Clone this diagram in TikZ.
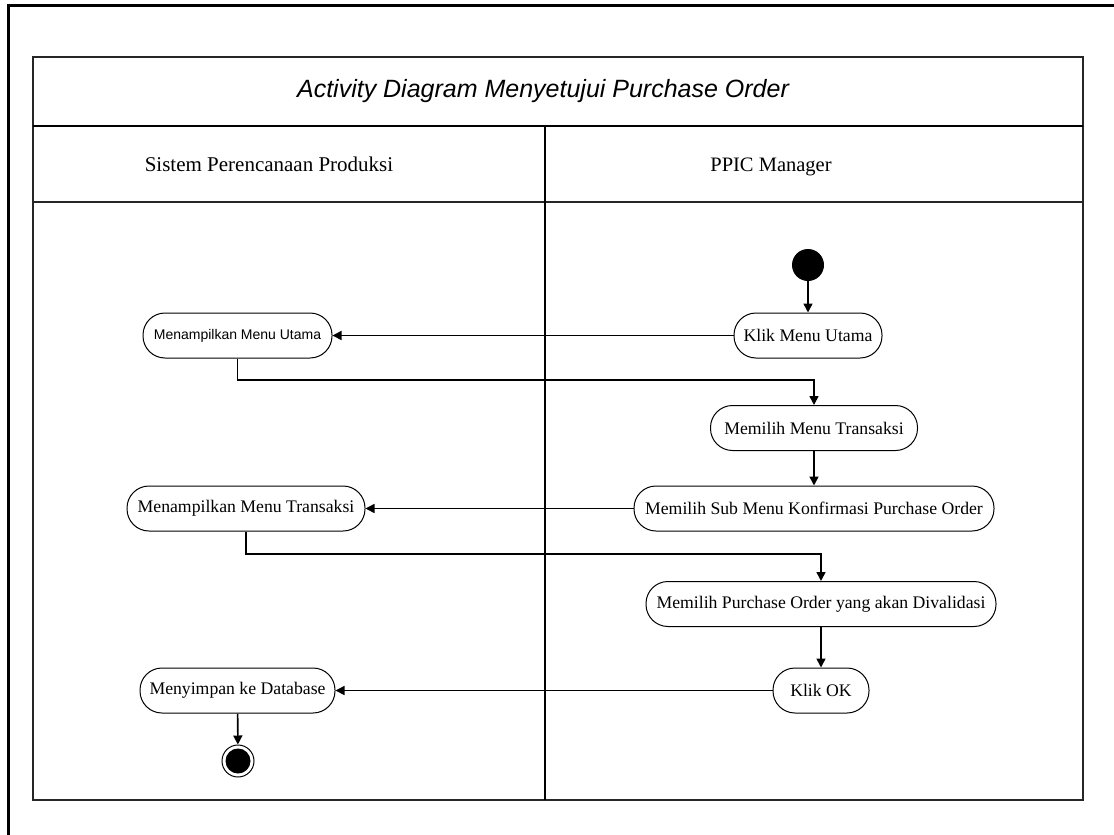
\documentclass[tikz,border=0pt]{standalone}
\usepackage{fontspec}
\setmainfont{Liberation Serif}
\setsansfont{Liberation Sans}
\usetikzlibrary{arrows.meta}
\begin{document}
\begin{tikzpicture}[x=1pt,y=-1pt,
  act/.style={draw, line width=1pt, rounded corners=22pt, minimum height=45pt,
              inner sep=0pt, font=\fontsize{17.7}{20}\selectfont},
  flow/.style={line width=1.6pt, -{Triangle[length=9pt,width=9pt]}},
  frame/.style={line width=1.4pt, draw=black!85}]
\useasboundingbox (0,0) rectangle (1114,835);

% outer frame (top and left edges)
\draw[line width=3pt] (1114,5.5) -- (8.5,5.5) -- (8.5,835);

% swimlane table
\draw[frame] (33,57) rectangle (1083,800);
\draw[line width=1.8pt] (33,126) -- (1083,126);
\draw[frame] (33,202) -- (1083,202);
\draw[line width=1.8pt] (545,126) -- (545,800);

\node[font=\sffamily\itshape\fontsize{25}{28}\selectfont] (title) at (543,91.5) {Activity Diagram Menyetujui Purchase Order};
\node[font=\fontsize{21}{24}\selectfont] (laneA) at (269,164) {Sistem Perencanaan Produksi};
\node[font=\fontsize{20.5}{24}\selectfont] (laneB) at (771,167) {PPIC Manager};

% activities
\node[circle, fill=black, minimum size=32pt, inner sep=0pt] (start) at (808,265) {};
\node[act, minimum width=148pt] (klik) at (808,335.5) {Klik Menu Utama};
\node[act, minimum width=189pt, font=\sffamily\fontsize{14}{17}\selectfont] (menuUtama) at (237.5,335.5) {Menampilkan Menu Utama};
\node[act, minimum width=207pt] (menuTrans) at (814,428) {Memilih Menu Transaksi};
\node[act, minimum width=360pt] (subMenu) at (814,508.5) {Memilih Sub Menu Konfirmasi Purchase Order};
\node[act, minimum width=238pt] (tampilTrans) at (246,508.5) {Menampilkan Menu Transaksi};
\node[act, minimum width=350pt] (pilihPO) at (821,604) {Memilih Purchase Order yang akan Divalidasi};
\node[act, minimum width=96pt] (ok) at (821,690.5) {Klik OK};
\node[act, minimum width=195pt] (simpan) at (237.5,690.5) {Menyimpan ke Database};
\node[circle, draw, line width=1pt, minimum size=32pt, inner sep=0pt] (end) at (238,761) {};
\node[circle, fill=black, minimum size=25pt, inner sep=0pt] (endDot) at (end) {};

% control flows
\draw[flow] (start) -- (klik);
\draw[flow] (klik) -- (menuUtama);
\draw[flow] (menuUtama.south) |- (814,380) -- (menuTrans.north);
\draw[flow] (menuTrans) -- (subMenu);
\draw[flow] (subMenu) -- (tampilTrans);
\draw[flow] (tampilTrans.south) |- (821,554) -- (pilihPO.north);
\draw[flow] (pilihPO) -- (ok);
\draw[flow] (ok) -- (simpan);
\draw[flow] (simpan) -- (end);
\end{tikzpicture}
\end{document}
